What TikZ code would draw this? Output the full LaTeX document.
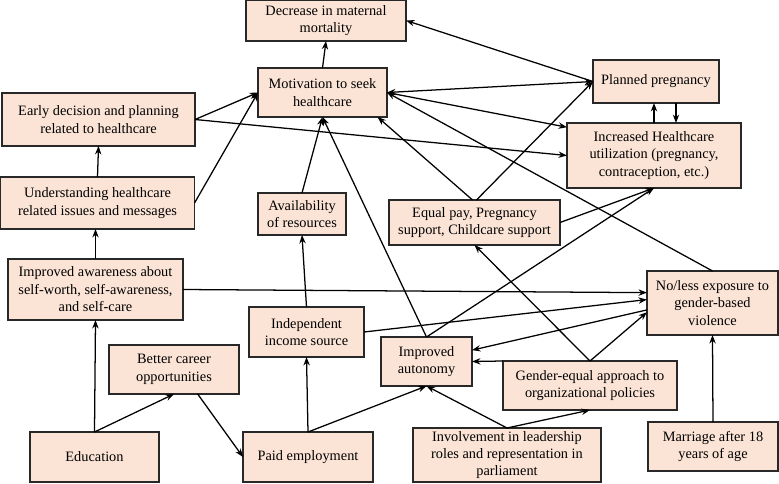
\documentclass[tikz,border=0pt]{standalone}
\usepackage{fontspec}
\setmainfont{Liberation Serif}
\usetikzlibrary{calc,arrows.meta}
\definecolor{boxfill}{RGB}{251,228,214}
\definecolor{boxline}{RGB}{40,40,40}

\begin{document}
\begin{tikzpicture}[x=0.025cm, y=-0.025cm, inner sep=0pt, outer sep=0pt,
    every node/.style={font=\fontsize{10.2}{12.4}\selectfont},
    box/.style={draw=boxline, fill=boxfill, line width=1pt, align=center},
    >={Stealth[length=6pt,width=4.5pt]},
    link/.style={->, line width=0.9pt}]
    \useasboundingbox (0,0) rectangle (779,483);

    % outcomes at the top
    \node[box, minimum width=4cm, minimum height=1.025cm] (mat_mort) at (326,20.5)
    {Decrease in maternal\\mortality};
    \node[box, minimum width=3.225cm, minimum height=1.225cm] (seek_hc) at (322.5,92.5)
    {Motivation to seek\\healthcare};
    \node[box, minimum width=3.15cm, minimum height=1.075cm] (plan_preg) at (656,81.5)
    {Planned pregnancy};
    \node[box, minimum width=4.35cm, minimum height=1.625cm] (incr_hc) at (654,155.5)
    {Increased Healthcare\\utilization (pregnancy,\\contraception, etc.)};

    % left column
    \node[box, minimum width=4.825cm, minimum height=1.325cm] (early_plan) at (98.5,119.5)
    {Early decision and planning\\related to healthcare};
    \node[box, minimum width=4.85cm, minimum height=1.3cm] (underst_hc) at (97.5,203)
    {Understanding healthcare\\related issues and messages};
    \node[box, minimum width=4.375cm, minimum height=1.525cm] (aware_self) at (95.5,289.5)
    {Improved awareness about\\self-worth, self-awareness,\\and self-care};
    \node[box, minimum width=3.225cm, minimum height=1.25cm] (educ) at (94.5,457)
    {Education};
    \node[box, minimum width=3.25cm, minimum height=1.225cm] (better_car) at (174,369.5)
    {Better career\\opportunities};

    % middle
    \node[box, minimum width=2.2cm, minimum height=1.05cm] (avail_res) at (302,214)
    {Availability\\of resources};
    \node[box, minimum width=2.875cm, minimum height=1.25cm] (indep_inc) at (306.5,332)
    {Independent\\income source};
    \node[box, minimum width=3.25cm, minimum height=1.25cm] (paid_emp) at (308,457)
    {Paid employment};
    \node[box, minimum width=4.275cm, minimum height=1.125cm] (equal_pay) at (474.5,222.5)
    {Equal pay, Pregnancy\\support, Childcare support};
    \node[box, minimum width=2.275cm, minimum height=1.225cm] (autonomy) at (426.5,361.5)
    {Improved\\autonomy};
    \node[box, minimum width=4.35cm, minimum height=1.225cm] (gender_pol) at (590,385.5)
    {Gender-equal approach to\\organizational policies};
    \node[box, minimum width=4.7cm, minimum height=1.35cm] (leadership) at (507,455)
    {Involvement in leadership\\roles and representation in\\parliament};

    % right column
    \node[box, minimum width=3.275cm, minimum height=1.6cm] (gbv_exp) at (712.5,303)
    {No/less exposure to\\gender-based\\violence};
    \node[box, minimum width=3.25cm, minimum height=1.225cm] (marriage) at (713,446.5)
    {Marriage after 18\\years of age};

    % left chain
    \draw[link] (educ.north) -- (aware_self.south);
    \draw[link] (aware_self.north) -- (aware_self.north |- underst_hc.south);
    \draw[link] (underst_hc.north) -- (early_plan.south);
    \draw[link] (educ.north) -- (better_car.south);
    \draw[link] (better_car.-46) -- (paid_emp.west);
    \draw[link] (underst_hc.east) -- (seek_hc.west);
    \draw[link] (early_plan.east) -- (seek_hc.west);
    \draw[link] (early_plan.east) -- (incr_hc.west);
    \draw[link] (aware_self.east) -- (gbv_exp.171);

    % employment and income
    \draw[link] (paid_emp.north) -- (indep_inc.south);
    \draw[link] (paid_emp.north) -- (autonomy.south);
    \draw[link] (indep_inc.north) -- (avail_res.south);
    \draw[link] (indep_inc.east) -- (gbv_exp.177);
    \draw[link] (avail_res.north) -- (seek_hc.south);

    % autonomy and policies
    \draw[link] (autonomy.north) -- (seek_hc.south);
    \draw[link] (autonomy.north) -- (incr_hc.south);
    \draw[link] (leadership.north) -- (autonomy.south);
    \draw[link] (leadership.north) -- (gender_pol.south);
    \draw[link] (gender_pol.north west) -- (autonomy.east);
    \draw[link] (gender_pol.north) -- (equal_pay.south);
    \draw[link] (gender_pol.north) -- (gbv_exp.188);
    \draw[link] (gbv_exp.186) -- (autonomy.14);
    \draw[link] (marriage.north) -- (gbv_exp.south);
    \draw[link] (gbv_exp.north) -- (seek_hc.east);

    % equal pay
    \draw[link] (equal_pay.95) -- (seek_hc.-24);
    \draw[link] (equal_pay.85) -- (plan_preg.west);
    \draw[link] (equal_pay.east) -- (incr_hc.south);

    % top outcomes
    \draw[link] (seek_hc.north) -- (mat_mort.south);
    \draw[link] (plan_preg.west) -- (mat_mort.east);
    \draw[<->, line width=0.9pt] (seek_hc.east) -- (plan_preg.west);
    \draw[link] (seek_hc.east) -- (incr_hc.162);
    \draw[link] (incr_hc.north) -- (incr_hc.north |- plan_preg.south);
    \coordinate (preg_down) at ($(plan_preg.south)+(20,0)$);
    \draw[link] (preg_down) -- (preg_down |- incr_hc.north);

\end{tikzpicture}
\end{document}
